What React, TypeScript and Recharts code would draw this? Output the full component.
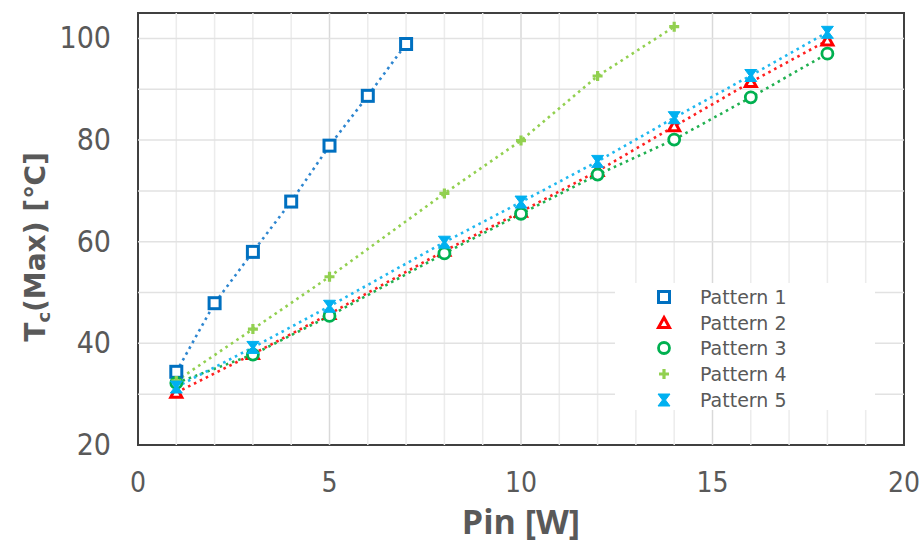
import React from 'react';
import {
  LineChart,
  Line,
  XAxis,
  YAxis,
  ReferenceLine,
  ReferenceArea,
  Legend
} from 'recharts';

// x values (Pin [W])
const xPattern1 = [1, 2, 3, 4, 5, 6, 7];
const xPattern4 = [1, 3, 5, 8, 10, 12, 14];
const xLong = [1, 3, 5, 8, 10, 12, 14, 16, 18];

// Tc(Max) [°C]
const pattern1 = [34.4, 47.9, 58.0, 67.9, 78.9, 88.7, 98.9];
const pattern2 = [30.3, 37.9, 45.8, 58.2, 65.9, 73.9, 82.7, 91.4, 99.6];
const pattern3 = [32.2, 37.8, 45.4, 57.7, 65.5, 73.2, 80.1, 88.4, 97.0];
const pattern4 = [32.6, 42.8, 53.1, 69.5, 79.9, 92.6, 102.3];
const pattern5 = [31.4, 39.2, 47.3, 59.9, 67.8, 75.8, 84.4, 92.7, 101.2];

const xTicks = [0, 5, 10, 15, 20];
const yTicks = [20, 40, 60, 80, 100];
const xMinorGrid = [1, 2, 3, 4, 6, 7, 8, 9, 11, 12, 13, 14, 16, 17, 18, 19];
const xMajorGrid = [5, 10, 15];
const yGrid = [30, 40, 50, 60, 70, 80, 90, 100];

type Shape = 'square' | 'triangle' | 'circle' | 'plus' | 'bowtie';

const series = [
  { name: 'Pattern 1', xs: xPattern1, ys: pattern1, marker: '#0070C0', line: '#2E86D0', shape: 'square' as Shape },
  { name: 'Pattern 2', xs: xLong, ys: pattern2, marker: '#FF0000', line: '#FF2020', shape: 'triangle' as Shape },
  { name: 'Pattern 3', xs: xLong, ys: pattern3, marker: '#00B050', line: '#20B050', shape: 'circle' as Shape },
  { name: 'Pattern 4', xs: xPattern4, ys: pattern4, marker: '#92D050', line: '#92D050', shape: 'plus' as Shape },
  { name: 'Pattern 5', xs: xLong, ys: pattern5, marker: '#00B0F0', line: '#20B8F0', shape: 'bowtie' as Shape }
];

const TEXT = '#595959';

function Marker({ cx, cy, shape, color }: { cx: number; cy: number; shape: Shape; color: string }) {
  switch (shape) {
    case 'square':
      return <rect x={cx - 5.5} y={cy - 5.5} width={11} height={11} fill="#fff" stroke={color} strokeWidth={3} />;
    case 'triangle':
      return (
        <polygon
          points={`${cx},${cy - 5.5} ${cx + 5.5},${cy + 4.5} ${cx - 5.5},${cy + 4.5}`}
          fill="#fff"
          stroke={color}
          strokeWidth={3}
        />
      );
    case 'circle':
      return <circle cx={cx} cy={cy} r={5.5} fill="#fff" stroke={color} strokeWidth={2.8} />;
    case 'plus':
      return (
        <path
          d={`M${cx - 5},${cy} L${cx + 5},${cy} M${cx},${cy - 5} L${cx},${cy + 5}`}
          stroke={color}
          strokeWidth={3.2}
          fill="none"
        />
      );
    case 'bowtie':
      return (
        <polygon
          points={`${cx - 6},${cy - 6} ${cx + 6},${cy - 6} ${cx + 1.5},${cy} ${cx + 6},${cy + 6} ${cx - 6},${cy + 6} ${cx - 1.5},${cy}`}
          fill={color}
          stroke={color}
          strokeWidth={1}
        />
      );
  }
  return null;
}

const XTick = (props: any) => {
  const { x, y, payload } = props;
  return (
    <text
      x={x}
      y={y}
      dy={47}
      textAnchor="middle"
      fill={TEXT}
      fontFamily="'Liberation Sans Narrow', 'DejaVu Sans Condensed', sans-serif"
      fontSize={28}
    >
      {payload.value}
    </text>
  );
};

const YTick = (props: any) => {
  const { x, y, payload } = props;
  return (
    <text
      x={x - 27}
      y={y}
      dy={10}
      textAnchor="end"
      fill={TEXT}
      fontFamily="'DejaVu Sans Condensed', 'Liberation Sans', sans-serif"
      fontSize={30}
    >
      {payload.value}
    </text>
  );
};

const renderLegend = () => (
  <div
    style={{
      background: '#fff',
      width: 260,
      height: 127,
      paddingTop: 1,
      boxSizing: 'border-box',
      fontFamily: "'DejaVu Sans', sans-serif",
      fontSize: 19,
      color: TEXT
    }}
  >
    {series.map(s => (
      <div key={s.name} style={{ display: 'flex', alignItems: 'center', height: 25.8 }}>
        <svg width={20} height={20} style={{ marginLeft: 39 }}>
          <Marker cx={10} cy={10} shape={s.shape} color={s.marker} />
        </svg>
        <span style={{ marginLeft: 26 }}>{s.name}</span>
      </div>
    ))}
  </div>
);

export default function App() {
  return (
    <div style={{ position: 'absolute', left: 0, top: 0, width: 921, height: 546, background: '#fff' }}>
      <LineChart width={921} height={546} margin={{ top: 13, right: 17, bottom: 1, left: 8 }}>
        <XAxis
          dataKey="x"
          type="number"
          domain={[0, 20]}
          ticks={xTicks}
          interval={0}
          height={100}
          axisLine={false}
          tickLine={false}
          tickSize={0}
          tickMargin={0}
          tick={<XTick />}
          allowDuplicatedCategory={false}
          label={{
            content: ({ viewBox }: any) => (
              <text
                x={viewBox.x + viewBox.width / 2}
                y={viewBox.y + 89}
                textAnchor="middle"
                fill={TEXT}
                fontFamily="'Open Sans', sans-serif"
                fontWeight="bold"
                fontSize={34}
              >
                Pin [W]
              </text>
            )
          }}
        />
        <YAxis
          type="number"
          domain={[20, 105]}
          ticks={yTicks}
          interval={0}
          width={130}
          axisLine={false}
          tickLine={false}
          tickSize={0}
          tickMargin={0}
          tick={<YTick />}
          label={{
            content: ({ viewBox }: any) => {
              const cx = viewBox.x + 37;
              const cy = viewBox.y + 234;
              return (
                <text
                  x={cx}
                  y={cy}
                  transform={`rotate(-90 ${cx} ${cy})`}
                  textAnchor="middle"
                  fill={TEXT}
                  fontFamily="'DejaVu Sans', sans-serif"
                  fontWeight="bold"
                  fontSize={28}
                >
                  T<tspan fontSize={18} dy={5}>c</tspan>
                  <tspan dy={-5}>(Max) [℃]</tspan>
                </text>
              );
            }
          }}
        />

        {xMinorGrid.map(v => (
          <ReferenceLine key={'vx' + v} x={v} stroke="#ececec" strokeWidth={1.5} />
        ))}
        {xMajorGrid.map(v => (
          <ReferenceLine key={'vM' + v} x={v} stroke="#d9d9d9" strokeWidth={1.5} />
        ))}
        {yGrid.map(v => (
          <ReferenceLine key={'hy' + v} y={v} stroke="#e2e2e2" strokeWidth={1.5} />
        ))}

        <Legend
          layout="vertical"
          align="center"
          verticalAlign="middle"
          content={renderLegend}
          wrapperStyle={{ position: 'absolute', left: 615, top: 283, width: 260, height: 127 }}
        />

        {series.map(s => (
          <Line
            key={s.name}
            name={s.name}
            data={s.xs.map((x, i) => ({ x, y: s.ys[i] }))}
            dataKey="y"
            type="linear"
            stroke={s.line}
            strokeWidth={2.6}
            strokeDasharray="2.6 4"
            isAnimationActive={false}
            activeDot={false}
            dot={(p: any) => <Marker key={s.name + p.index} cx={p.cx} cy={p.cy} shape={s.shape} color={s.marker} />}
          />
        ))}

        <ReferenceArea x1={0} x2={20} y1={20} y2={105} fill="none" stroke="#404040" strokeWidth={2} ifOverflow="visible" />
      </LineChart>
    </div>
  );
}
